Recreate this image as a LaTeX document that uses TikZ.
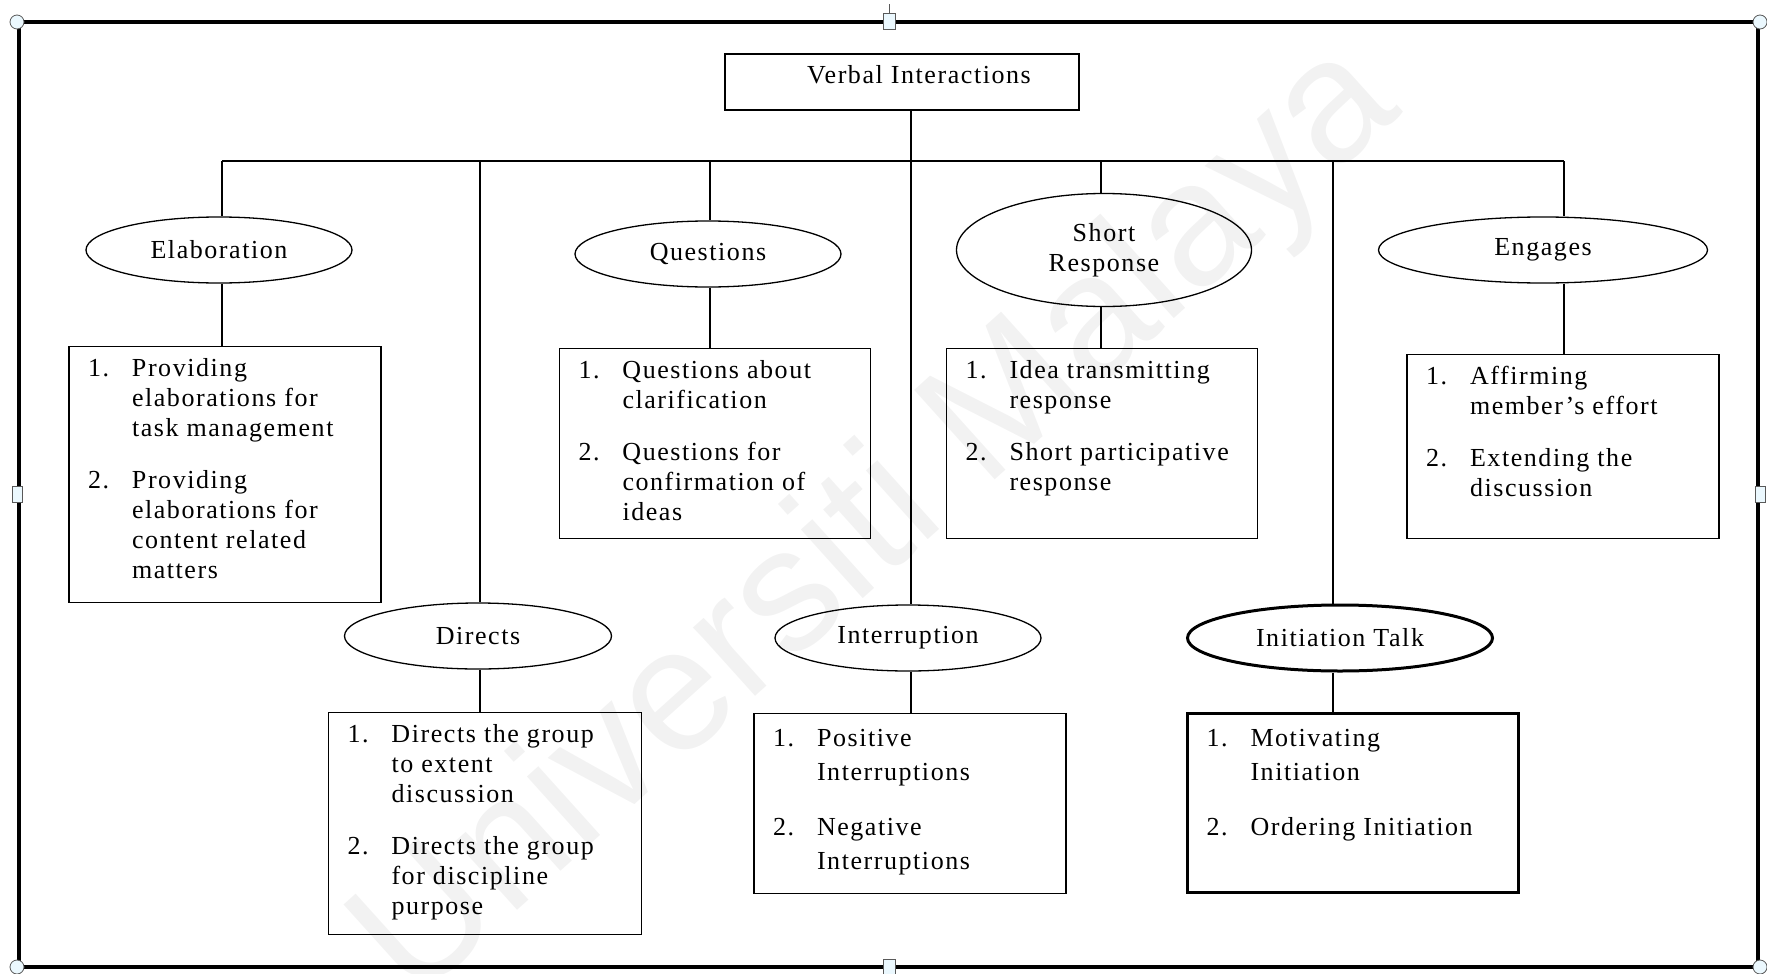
\documentclass[tikz,border=0pt]{standalone}
\usepackage{fontspec}
\setmainfont[LetterSpace=6]{Liberation Serif}
\newfontfamily\wmfont{Liberation Sans}
\usetikzlibrary{shapes.geometric}

\newcommand{\vitem}[3][0pt]{\par\vspace{#1}\hangindent=44pt\hangafter=1\noindent\makebox[44pt][l]{#2}\strut#3\par}
\newcommand{\itemtext}[4][30pt]{\parbox[t][#3][t]{#2}{\fontsize{26}{#1}\selectfont\vspace*{9pt}#4}}

\begin{document}
\begin{tikzpicture}[x=1pt, y=-1pt,
  every node/.style={font=\fontsize{26}{30}\selectfont},
  cat/.style={ellipse, draw, line width=1.3pt, minimum width=266pt, minimum height=66pt, inner sep=0pt, align=center},
  listbox/.style={draw, line width=1.3pt, anchor=north, inner xsep=19pt, inner ysep=0pt},
  link/.style={line width=1.3pt},
  handle/.style={draw=gray!70!black, fill=cyan!8, line width=0.8pt}]
\useasboundingbox (0,0) rectangle (1767,974);

\node[text=black!5, font=\wmfont\fontsize{175}{175}\selectfont, rotate=42] (mark) at (879,524) {Universiti Malaya};

\node[draw, line width=1.3pt, minimum width=354pt, minimum height=56pt, text height=20pt, text depth=16pt] (root) at (902,82) {\hspace*{34pt}Verbal Interactions};

\node[cat] (elab) at (219,250) {Elaboration};
\node[cat] (ques) at (708,254) {Questions};
\node[cat, minimum width=295pt, minimum height=113pt] (short) at (1104,250) {Short\\ Response};
\node[cat, minimum width=329pt] (eng) at (1543,250) {Engages};
\node[cat, minimum width=267pt] (dir) at (478,636) {Directs};
\node[cat] (intr) at (908,638) {Interruption};
\node[cat, minimum width=305pt, line width=3pt] (init) at (1340,638) {Initiation Talk};

\node[listbox] (elabList) at (225,346) {\itemtext{274pt}{256pt}{
  \vitem{1.}{Providing\newline elaborations for\newline task management}
  \vitem[22pt]{2.}{Providing\newline elaborations for\newline content related\newline matters}}};
\node[listbox] (quesList) at (715,348) {\itemtext{273pt}{190pt}{
  \vitem{1.}{Questions about\newline clarification}
  \vitem[22pt]{2.}{Questions for\newline confirmation of\newline ideas}}};
\node[listbox] (shortList) at (1102,348) {\itemtext{273pt}{190pt}{
  \vitem{1.}{Idea transmitting\newline response}
  \vitem[22pt]{2.}{Short participative\newline response}}};
\node[listbox] (engList) at (1563,354) {\itemtext{274pt}{184pt}{
  \vitem{1.}{Affirming\newline member’s effort}
  \vitem[22pt]{2.}{Extending the\newline discussion}}};
\node[listbox] (dirList) at (485,712) {\itemtext{275pt}{222pt}{
  \vitem{1.}{Directs the group\newline to extent\newline discussion}
  \vitem[22pt]{2.}{Directs the group\newline for discipline\newline purpose}}};
\node[listbox] (intrList) at (910,713) {\itemtext[34pt]{274pt}{180pt}{
  \vitem{1.}{Positive\newline Interruptions}
  \vitem[21pt]{2.}{Negative\newline Interruptions}}};
\node[listbox, line width=3pt] (initList) at (1353,712) {\itemtext[34pt]{293pt}{179pt}{
  \vitem{1.}{Motivating\newline Initiation}
  \vitem[21pt]{2.}{Ordering Initiation}}};

\coordinate (dElab) at (222,161);
\coordinate (dDir) at (480,161);
\coordinate (dQues) at (710,161);
\coordinate (dIntr) at (911,161);
\coordinate (dShort) at (1101,161);
\coordinate (dInit) at (1333,161);
\coordinate (dEng) at (1564,161);

\draw[link] (root.south -| dIntr) -- (dIntr);
\draw[link] (dElab) -- (dEng);
\draw[link] (dElab) -- (dElab |- elab.north);
\draw[link] (dDir) -- (dDir |- dir.north);
\draw[link] (dQues) -- (dQues |- ques.north);
\draw[link] (dIntr) -- (dIntr |- intr.north);
\draw[link] (dShort) -- (dShort |- short.north);
\draw[link] (dInit) -- (dInit |- init.north);
\draw[link] (dEng) -- (dEng |- eng.north);
\draw[link] (dElab |- elab.south) -- (dElab |- elabList.north);
\draw[link] (dDir |- dir.south) -- (dDir |- dirList.north);
\draw[link] (dQues |- ques.south) -- (dQues |- quesList.north);
\draw[link] (dIntr |- intr.south) -- (dIntr |- intrList.north);
\draw[link] (dShort |- short.south) -- (dShort |- shortList.north);
\draw[link] (dInit |- init.south) -- (dInit |- initList.north);
\draw[link] (dEng |- eng.south) -- (dEng |- engList.north);

\draw[line width=4pt] (19,22) rectangle (1758,967);
\draw[handle] (17,22) circle (7pt);
\draw[handle] (1760,22) circle (7pt);
\draw[handle] (17,967) circle (7pt);
\draw[handle] (1760,967) circle (7pt);
\draw[gray!70!black, line width=0.8pt] (889,13) -- (889,4);
\draw[handle] (883,13) rectangle (895,29);
\draw[handle] (883,959) rectangle (895,975);
\draw[handle] (12,486) rectangle (22,502);
\draw[handle] (1755,486) rectangle (1765,502);
\end{tikzpicture}
\end{document}
